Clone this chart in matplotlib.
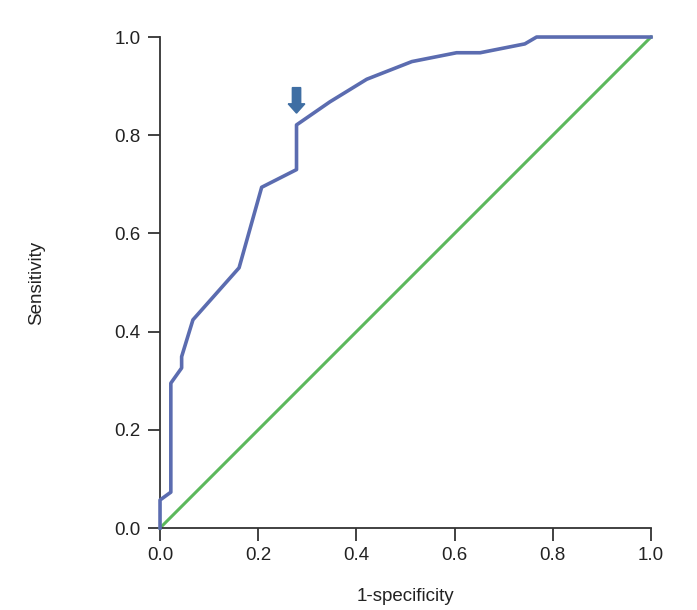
# ROC curve
import numpy as np
import matplotlib.pyplot as plt

plt.rcParams['font.family'] = ['Liberation Sans Narrow', 'Liberation Sans', 'DejaVu Sans']

# curve points
fpr = [0.0, 0.0, 0.022, 0.022, 0.044, 0.044, 0.067, 0.161, 0.207, 0.278, 0.278,
       0.346, 0.421, 0.513, 0.604, 0.652, 0.743, 0.767, 1.0]
tpr = [0.0, 0.057, 0.073, 0.295, 0.326, 0.349, 0.424, 0.530, 0.694, 0.730, 0.821,
       0.868, 0.914, 0.950, 0.968, 0.968, 0.986, 1.0, 1.0]
ref = [0.0, 1.0]
ticks = [0.0, 0.2, 0.4, 0.6, 0.8, 1.0]
cut_x, cut_y = 0.278, 0.897  # arrow marking the cut-off

fig = plt.figure(figsize=(6.97, 6.10), dpi=100)
ax = fig.add_axes([0.2296, 0.1344, 0.7044, 0.8049])

ax.plot(ref, ref, color='#5cb85c', lw=2.2, zorder=2, clip_on=False)
ax.plot(fpr, tpr, color='#5b6cb0', lw=2.6, zorder=3, clip_on=False)
ax.arrow(cut_x, cut_y, 0, -0.033, width=0.017, head_width=0.034,
         head_length=0.019, color='#3f6ea3', length_includes_head=False, zorder=4)

ax.set_xlim(0, 1.0)
ax.set_ylim(0, 1.0)
ax.set_xticks(ticks)
ax.set_yticks(ticks)
ax.set_xticklabels(['%.1f' % t for t in ticks])
ax.set_yticklabels(['%.1f' % t for t in ticks])
for s in ['top', 'right']:
    ax.spines[s].set_visible(False)
for s in ['left', 'bottom']:
    ax.spines[s].set_color('#333333')
    ax.spines[s].set_linewidth(1.3)
ax.spines['left'].set_zorder(1)
ax.tick_params(length=9, width=1.3, color='#333333', labelsize=13.5,
               labelcolor='#222222', pad=5)

ax.set_xlabel('1-specificity', fontsize=13.5, color='#222222')
ax.set_ylabel('Sensitivity', fontsize=13.5, color='#222222')
ax.xaxis.set_label_coords(0.5, -0.122)
ax.yaxis.set_label_coords(-0.234, 0.5)

fig.savefig('out.png', dpi=100)
